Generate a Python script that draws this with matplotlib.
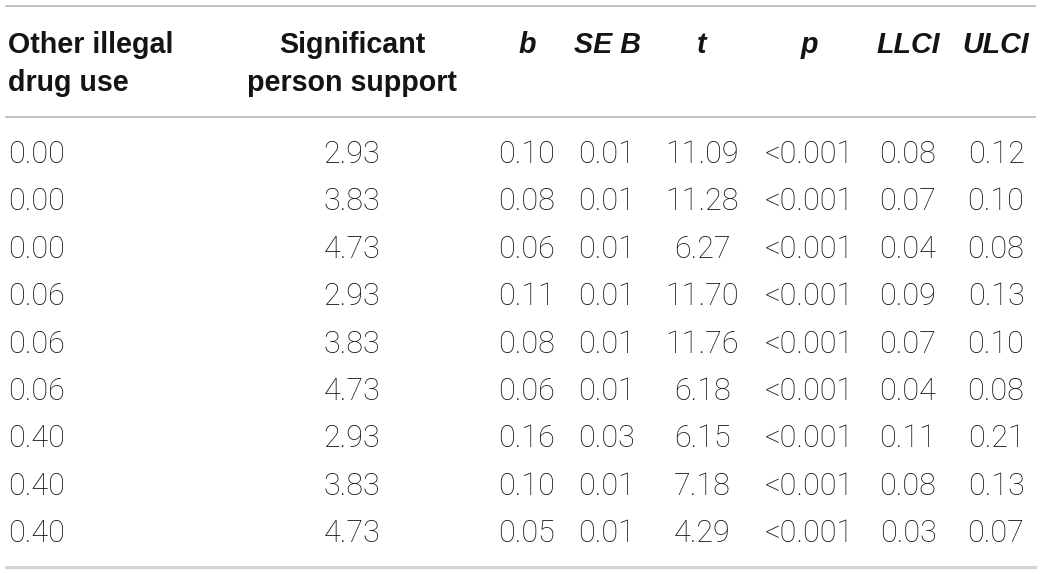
import matplotlib
matplotlib.use("Agg")
import matplotlib.pyplot as plt

# table content
headers = [["Other illegal", "drug use"], ["Significant", "person support"],
           ["b"], ["SE B"], ["t"], ["p"], ["LLCI"], ["ULCI"]]
header_italic = [False, False, True, True, True, True, True, True]

drug_use = ["0.00", "0.00", "0.00", "0.06", "0.06", "0.06", "0.40", "0.40", "0.40"]
support = ["2.93", "3.83", "4.73", "2.93", "3.83", "4.73", "2.93", "3.83", "4.73"]
b_vals = ["0.10", "0.08", "0.06", "0.11", "0.08", "0.06", "0.16", "0.10", "0.05"]
se_vals = ["0.01", "0.01", "0.01", "0.01", "0.01", "0.01", "0.03", "0.01", "0.01"]
t_vals = ["11.09", "11.28", "6.27", "11.70", "11.76", "6.18", "6.15", "7.18", "4.29"]
p_vals = ["<0.001"] * 9
llci = ["0.08", "0.07", "0.04", "0.09", "0.07", "0.04", "0.11", "0.08", "0.03"]
ulci = ["0.12", "0.10", "0.08", "0.13", "0.10", "0.08", "0.21", "0.13", "0.07"]

columns = [drug_use, support, b_vals, se_vals, t_vals, p_vals, llci, ulci]

W, H = 1041, 574
fig = plt.figure(figsize=(W / 100, H / 100), dpi=100)
ax = fig.add_axes([0, 0, 1, 1])
ax.set_xlim(0, W)
ax.set_ylim(H, 0)
ax.axis("off")

col_x = [8, 352, 527, 607, 702, 809, 908, 996]
col_ha = ["left"] + ["center"] * 7

# rules
ax.plot([6, 1035], [6, 6], color="#b5b5b5", lw=1.2)
ax.plot([6, 1035], [117, 117], color="#b5b5b5", lw=1.2)
ax.plot([6, 1035], [567, 567], color="#d3d3d3", lw=2.2)

# header
for x, ha, lines, it in zip(col_x, col_ha, headers, header_italic):
    for k, line in enumerate(lines):
        ax.text(x, 53 + k * 38, line, ha=ha, va="baseline", fontsize=20.6,
                fontweight="bold", fontstyle="italic" if it else "normal",
                family=["Liberation Sans", "DejaVu Sans"], color="#141414")

# body
for x, ha, vals in zip(col_x, col_ha, columns):
    for i, v in enumerate(vals):
        ax.text(x, 163 + i * 47.4, v, ha=ha, va="baseline", fontsize=22,
                fontweight="light", family=["Roboto", "DejaVu Sans"],
                color="#111111")

fig.savefig("out.png", dpi=100, facecolor="white")
